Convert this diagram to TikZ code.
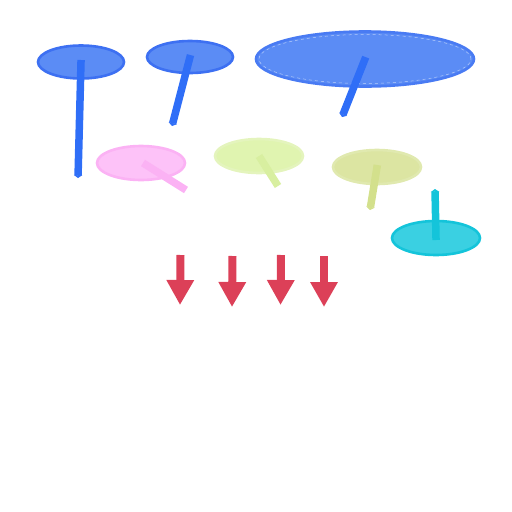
\documentclass[tikz,border=0pt]{standalone}
\usetikzlibrary{shapes.geometric,arrows.meta}
\definecolor{blueF}{HTML}{5B8CF5}
\definecolor{blueD}{HTML}{3D70F2}
\definecolor{blueS}{HTML}{2F6EF7}
\definecolor{pinkF}{HTML}{FDC2F8}
\definecolor{pinkD}{HTML}{FBB2F4}
\definecolor{limeF}{HTML}{E0F4B0}
\definecolor{limeD}{HTML}{D8EFA0}
\definecolor{oliveF}{HTML}{DCE5A2}
\definecolor{oliveD}{HTML}{D3E08C}
\definecolor{cyanF}{HTML}{3AD0E2}
\definecolor{cyanD}{HTML}{14C4DA}
\definecolor{redA}{HTML}{DC4058}
\tikzset{
  pin/.style={ellipse, inner sep=0pt, line width=2.6pt},
  stem/.style={line width=7.5pt, -{Triangle[width=8.5pt,length=3pt]}, shorten <=-2pt},
  bigarrow/.style={redA, line width=8pt, -{Triangle[width=26pt,length=25pt]}}
}
\begin{document}
\begin{tikzpicture}[x=1pt,y=-1pt]
\useasboundingbox (0,0) rectangle (512,512);
% blue pins
\node[pin, draw=blueD, fill=blueF, minimum width=86pt, minimum height=33pt] (a) at (81,62) {};
\coordinate (ae) at (78,178);
\draw[stem, blueS] (a.center) -- (ae);
\node[pin, draw=blueD, fill=blueF, minimum width=86pt, minimum height=32pt] (b) at (190,57) {};
\coordinate (be) at (172,126);
\draw[stem, blueS] (b.center) -- (be);
\node[pin, draw=blueD!60!blueF, fill=blueF, minimum width=218pt, minimum height=55pt] (c) at (365,59) {};
\draw[white!55!blueF, line width=0.5pt, dashed] (365,59) ellipse [x radius=106pt, y radius=24.5pt];
\coordinate (ce) at (342,117);
\draw[stem, blueS] (c.center) -- (ce);
% pink
\node[pin, draw=pinkD, fill=pinkF, minimum width=88pt, minimum height=34pt] (d) at (141,163) {};
\coordinate (de) at (186,190);
\draw[line width=7.5pt, pinkD] (143,163) -- (de);
% lime
\node[pin, draw=limeD!70!white, fill=limeF, minimum width=88pt, minimum height=34pt] (e) at (259,156) {};
\coordinate (ee) at (278,186);
\draw[line width=7.5pt, limeD] (e.center) -- (ee);
% olive
\node[pin, draw=oliveD!70!white, fill=oliveF, minimum width=88pt, minimum height=34pt] (f) at (377,167) {};
\coordinate (fe) at (370,210);
\draw[stem, oliveD] (f.center) -- (fe);
% cyan
\node[pin, draw=cyanD, fill=cyanF, minimum width=88pt, minimum height=34pt] (g) at (436,238) {};
\coordinate (ge) at (435,189);
\draw[stem, cyanD] (g.center) -- (ge);
% red arrows
\coordinate (r1s) at (180.5,255); \coordinate (r1e) at (180,305);
\coordinate (r2s) at (232.5,256); \coordinate (r2e) at (232,307);
\coordinate (r3s) at (281,255); \coordinate (r3e) at (280.5,305);
\coordinate (r4s) at (324,256); \coordinate (r4e) at (324,307);
\draw[bigarrow] (r1s) -- (r1e);
\draw[bigarrow] (r2s) -- (r2e);
\draw[bigarrow] (r3s) -- (r3e);
\draw[bigarrow] (r4s) -- (r4e);
\end{tikzpicture}
\end{document}
